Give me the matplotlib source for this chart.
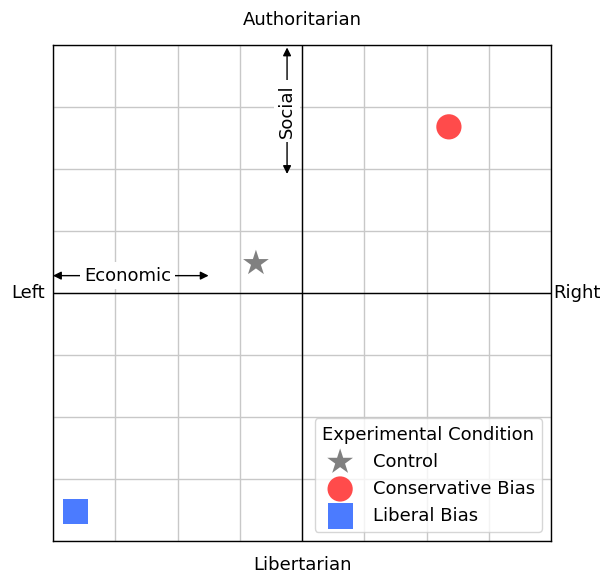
import matplotlib
matplotlib.use("Agg")
import matplotlib.pyplot as plt
import numpy as np

plt.rcParams["font.family"] = ["DejaVu Sans"]

conditions = ["Control", "Conservative Bias", "Liberal Bias"]
econ = [-1.85, 5.9, -9.1]
social = [1.2, 6.7, -8.8]
markers = ["*", "o", "s"]
colors = ["#808080", "#ff4b4b", "#4b7bff"]
sizes = [380, 330, 330]

FS = 13

fig = plt.figure(figsize=(6.03, 5.75), dpi=100)
ax = fig.add_axes([53/603, 1-541/575, 498/603, 496/575])
ax.set_xlim(-10, 10)
ax.set_ylim(-10, 10)
ticks = np.arange(-10, 10.01, 2.5)
ax.set_xticks(ticks)
ax.set_yticks(ticks)
ax.tick_params(length=0, labelbottom=False, labelleft=False)
ax.grid(True, color="#c8c8c8", linewidth=1)
ax.set_axisbelow(True)
ax.axhline(0, color="black", linewidth=1, zorder=1.5)
ax.axvline(0, color="black", linewidth=1, zorder=1.5)
for s in ax.spines.values():
    s.set_color("black")
    s.set_linewidth(1)

for c, x, y, m, col, sz in zip(conditions, econ, social, markers, colors, sizes):
    ax.scatter([x], [y], marker=m, color=col, s=sz, label=c, zorder=3, edgecolors="none")

# Arrows
ax.annotate("", xy=(-10, 0.7), xytext=(-3.75, 0.7),
            arrowprops=dict(arrowstyle="<|-|>", color="black", lw=1, shrinkA=0, shrinkB=0,
                            mutation_scale=12))
ax.text(-7.0, 0.7, "Economic", ha="center", va="center", fontsize=FS,
        bbox=dict(facecolor="white", edgecolor="none", pad=3))
ax.annotate("", xy=(-0.6, 9.9), xytext=(-0.6, 4.8),
            arrowprops=dict(arrowstyle="<|-|>", color="black", lw=1, shrinkA=0, shrinkB=0,
                            mutation_scale=12))
ax.text(-0.6, 7.35, "Social", ha="center", va="center", fontsize=FS, rotation=90,
        bbox=dict(facecolor="white", edgecolor="none", pad=3))

fig.text(302/603, 1-20/575, "Authoritarian", ha="center", va="center", fontsize=FS)
fig.text(302/603, 1-565/575, "Libertarian", ha="center", va="center", fontsize=FS)
fig.text(28/603, 1-293/575, "Left", ha="center", va="center", fontsize=FS)
fig.text(577/603, 1-293/575, "Right", ha="center", va="center", fontsize=FS)

leg = ax.legend(title="Experimental Condition", loc="lower right", fontsize=FS,
                title_fontsize=FS, framealpha=0.8)

fig.savefig("out.png", dpi=100)
